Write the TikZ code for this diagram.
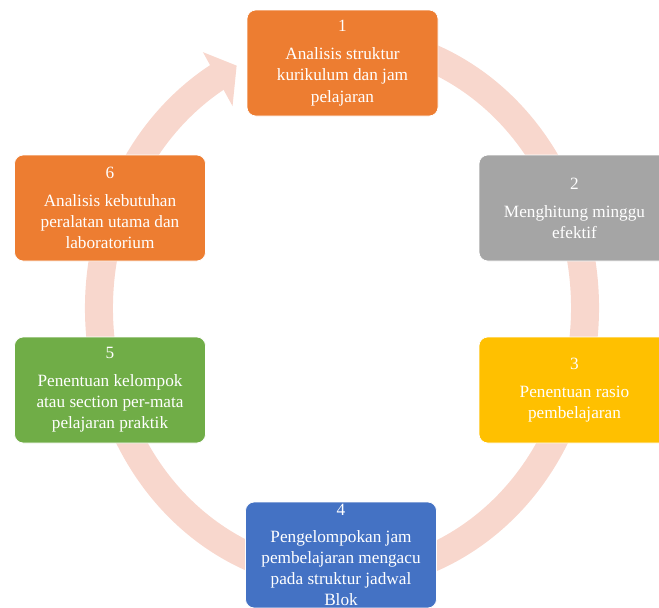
\documentclass[tikz,border=0pt]{standalone}
\usepackage{fontspec}
\setmainfont{Liberation Serif}
\usetikzlibrary{calc}

\definecolor{stepOrange}{RGB}{237,125,49}
\definecolor{stepGray}{RGB}{165,165,165}
\definecolor{stepGold}{RGB}{255,192,0}
\definecolor{stepBlue}{RGB}{68,114,196}
\definecolor{stepGreen}{RGB}{112,173,71}
\definecolor{ringPeach}{RGB}{248,215,205}

\begin{document}
\begin{tikzpicture}[
  box/.style={draw=white, line width=0.4pt, rounded corners=5pt,
              minimum width=3.82cm, minimum height=2.12cm,
              inner xsep=2pt, inner ysep=0pt, align=center,
              text=white, font=\fontsize{9.8}{12}\selectfont},
  ring/.style={ringPeach, line width=0.56cm},
]
  \useasboundingbox (0,0) rectangle (13.18,-12.14);

  %% ── Cycle ring with its arrowhead ──
  \coordinate (c) at (6.84,-6.16);
  \draw[ring] ($(c)+(120:4.86 and 5.38)$)
    arc[start angle=120, end angle=450, x radius=4.86cm, y radius=5.38cm];
  \fill[ringPeach] ($(c)+(121:5.40 and 5.97)$)
    -- ($(c)+(115.7:4.86 and 5.38)$)
    -- ($(c)+(121:4.25 and 4.71)$) -- cycle;

  %% ── Steps ──
  \node[box, fill=stepOrange] (s1) at (6.85,-1.26)
    {1\\[4pt]Analisis struktur\\kurikulum dan jam\\pelajaran};
  \node[box, fill=stepGray]   (s2) at (11.49,-4.16)
    {2\\[4pt]Menghitung minggu\\efektif};
  \node[box, fill=stepGold]   (s3) at (11.49,-7.80)
    {3\\[4pt]Penentuan rasio\\pembelajaran};
  \node[box, fill=stepBlue]   (s4) at (6.82,-11.10)
    {4\\[3pt]Pengelompokan jam\\pembelajaran mengacu\\pada struktur jadwal\\Blok};
  \node[box, fill=stepGreen]  (s5) at (2.20,-7.80)
    {5\\[4pt]Penentuan kelompok\\atau section per-mata\\pelajaran praktik};
  \node[box, fill=stepOrange] (s6) at (2.20,-4.16)
    {6\\[4pt]Analisis kebutuhan\\peralatan utama dan\\laboratorium};
\end{tikzpicture}
\end{document}
